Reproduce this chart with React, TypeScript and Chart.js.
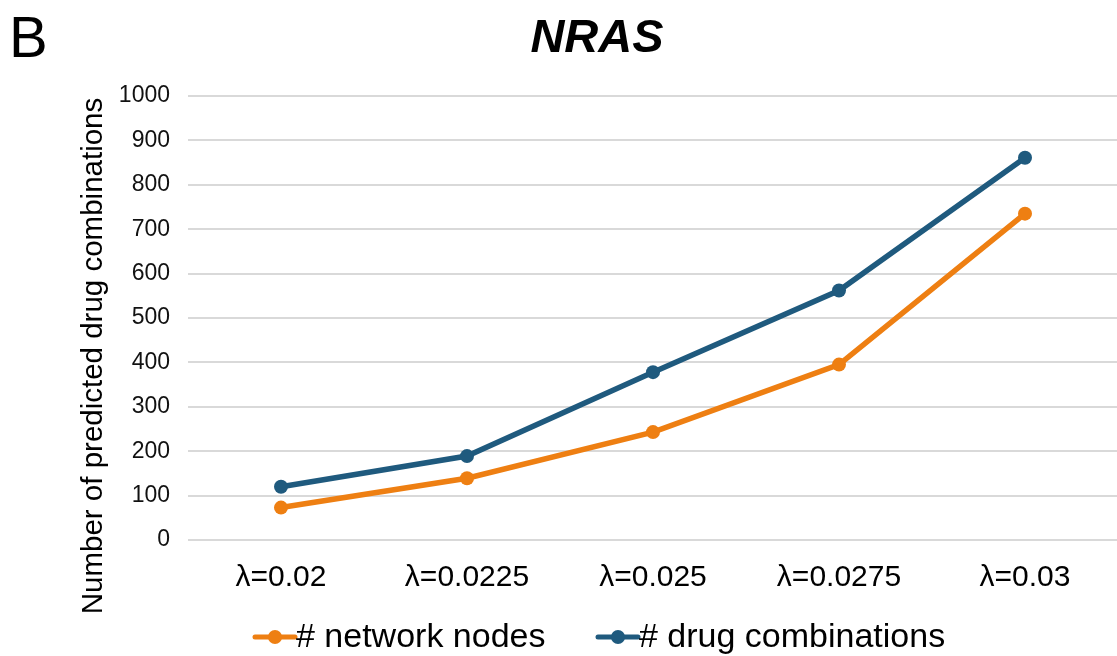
import React, { useEffect, useRef } from "react";
import { Chart, registerables } from "chart.js";

Chart.register(...registerables);

const categories = ["λ=0.02", "λ=0.0225", "λ=0.025", "λ=0.0275", "λ=0.03"];
const networkNodes = [73, 139, 243, 395, 735];
const drugCombinations = [120, 189, 378, 562, 861];
const seriesNames = ["# network nodes", "# drug combinations"];
const seriesColors = ["#EE7F12", "#1F5A7E"];
const panelLetter = "B";
const chartTitle = "NRAS";
const yAxisTitle = "Number of predicted drug combinations";
const yMin = 0;
const yMax = 1000;
const yStep = 100;

const FONT = "'Liberation Sans', Arial, sans-serif";

const decorPlugin = {
  id: "decor",
  afterDraw(chart: any) {
    const ctx = chart.ctx;
    ctx.save();
    ctx.fillStyle = "#000";
    // panel letter
    ctx.font = `normal 58px ${FONT}`;
    ctx.textAlign = "left";
    ctx.textBaseline = "alphabetic";
    ctx.fillText(panelLetter, 9, 57);
    // title
    ctx.font = `italic bold 47px ${FONT}`;
    ctx.textAlign = "center";
    ctx.fillText(chartTitle, 597, 52);
    // y axis title
    ctx.save();
    ctx.translate(94, 356);
    ctx.rotate(-Math.PI / 2);
    ctx.font = `normal 29.5px ${FONT}`;
    ctx.textAlign = "center";
    ctx.textBaseline = "middle";
    ctx.fillText(yAxisTitle, 0, 0);
    ctx.restore();
    // legend
    const starts = [255, 598];
    const ly = 637;
    ctx.font = `normal 34px ${FONT}`;
    ctx.textAlign = "left";
    ctx.textBaseline = "middle";
    seriesNames.forEach((name, i) => {
      const x0 = starts[i];
      const len = 40;
      ctx.strokeStyle = seriesColors[i];
      ctx.lineWidth = 5;
      ctx.lineCap = "round";
      ctx.beginPath();
      ctx.moveTo(x0, ly);
      ctx.lineTo(x0 + len, ly);
      ctx.stroke();
      ctx.fillStyle = seriesColors[i];
      ctx.beginPath();
      ctx.arc(x0 + len / 2, ly, 7, 0, Math.PI * 2);
      ctx.fill();
      ctx.fillStyle = "#000";
      ctx.fillText(name, x0 + len + 1, ly + 1);
    });
    ctx.restore();
  },
};

export default function App() {
  const ref = useRef<HTMLCanvasElement | null>(null);
  useEffect(() => {
    if (!ref.current) return;
    const chart = new Chart(ref.current, {
      type: "line",
      data: {
        labels: categories,
        datasets: [
          {
            label: seriesNames[0],
            data: networkNodes,
            borderColor: seriesColors[0],
            backgroundColor: seriesColors[0],
            borderWidth: 5.5,
            pointRadius: 7,
            pointHoverRadius: 7,
            pointBorderWidth: 0,
            tension: 0,
          },
          {
            label: seriesNames[1],
            data: drugCombinations,
            borderColor: seriesColors[1],
            backgroundColor: seriesColors[1],
            borderWidth: 5.5,
            pointRadius: 7,
            pointHoverRadius: 7,
            pointBorderWidth: 0,
            tension: 0,
          },
        ],
      },
      options: {
        responsive: false,
        animation: false,
        layout: { padding: { left: 0, right: 2, top: 96, bottom: 0 } },
        plugins: {
          legend: { display: false },
          title: { display: false },
          tooltip: { enabled: false },
        },
        scales: {
          x: {
            offset: true,
            grid: { display: false, drawTicks: false },
            border: { display: false },
            ticks: {
              color: "#000",
              font: { family: FONT, size: 30 },
              padding: 20,
              maxRotation: 0,
              autoSkip: false,
            },
            afterFit: (scale: any) => {
              scale.height = 116;
            },
          },
          y: {
            min: yMin,
            max: yMax,
            grid: { color: "#D9D9D9", lineWidth: 2, drawTicks: false },
            border: { display: false },
            ticks: {
              stepSize: yStep,
              color: "#111",
              font: { family: FONT, size: 23 },
              padding: 18,
              callback: (v: any) => String(v),
            },
            afterFit: (scale: any) => {
              scale.width = 188;
            },
          },
        },
      },
      plugins: [decorPlugin],
    });
    return () => chart.destroy();
  }, []);
  return (
    <div
      style={{
        position: "fixed",
        left: 0,
        top: 0,
        width: 1117,
        height: 656,
        overflow: "hidden",
        background: "#fff",
      }}
    >
      <canvas ref={ref} width={1125} height={656} style={{ display: "block" }} />
    </div>
  );
}
